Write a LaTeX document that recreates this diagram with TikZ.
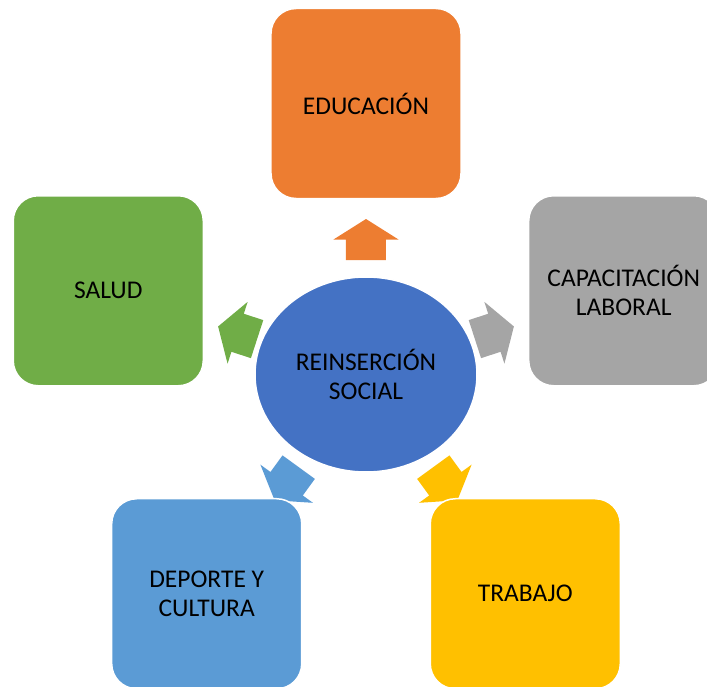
\documentclass[tikz,border=0pt]{standalone}
\usepackage{fontspec}
\setmainfont{Carlito}
\usetikzlibrary{calc, positioning, shapes.geometric, backgrounds}
\definecolor{socblue}{HTML}{4472C4}
\definecolor{eduorange}{HTML}{ED7D31}
\definecolor{salgreen}{HTML}{70AD47}
\definecolor{capgray}{HTML}{A5A5A5}
\definecolor{depblue}{HTML}{5B9BD5}
\definecolor{trayellow}{HTML}{FFC000}
\tikzset{
  topic/.style={
    rectangle, draw=white, line width=1.5pt, rounded corners=25pt,
    minimum width=190pt, minimum height=190pt, align=center, text=black
  },
  hub/.style={ellipse, draw=white, line width=1.5pt, fill=socblue,
    minimum width=222pt, minimum height=195pt, align=center, text=black},
  blockarr/.pic={
    \fill[#1] (-20.5,-20) -- (0,-20) -- (0,-32.5) -- (20.5,0)
      -- (0,32.5) -- (0,20) -- (-20.5,20) -- cycle;
  }
}

\begin{document}
\begin{tikzpicture}[
    x=1pt, y=1pt,
    every node/.style={font=\fontsize{25.5}{29}\selectfont}
    ]
    \useasboundingbox (-366,-311.5) rectangle (341,374.5);
    
    % Centro
    \node[hub] (soc) at (0,0) {REINSERCIÓN\\SOCIAL};
    
    % Ejes
    \node[topic, fill=eduorange] (edu) at (90:271) {EDUCACIÓN};
    \node[topic, fill=salgreen] (sal) at (162:271) {SALUD};
    \node[topic, fill=capgray] (cap) at (18:271) {CAPACITACIÓN\\LABORAL};
    \node[topic, fill=depblue] (dep) at (234:271) {DEPORTE Y\\CULTURA};
    \node[topic, fill=trayellow] (tra) at (306:271) {TRABAJO};
    
    % Flechas
    \begin{scope}[on background layer]
    \pic[rotate=90] at ($(soc)!135pt!(edu)$) {blockarr=eduorange};
    \pic[rotate=162] at ($(soc)!135pt!(sal)$) {blockarr=salgreen};
    \pic[rotate=18] at ($(soc)!135pt!(cap)$) {blockarr=capgray};
    \pic[rotate=234] at ($(soc)!135pt!(dep)$) {blockarr=depblue};
    \pic[rotate=306] at ($(soc)!135pt!(tra)$) {blockarr=trayellow};
    \end{scope}
    
\end{tikzpicture}
\end{document}
